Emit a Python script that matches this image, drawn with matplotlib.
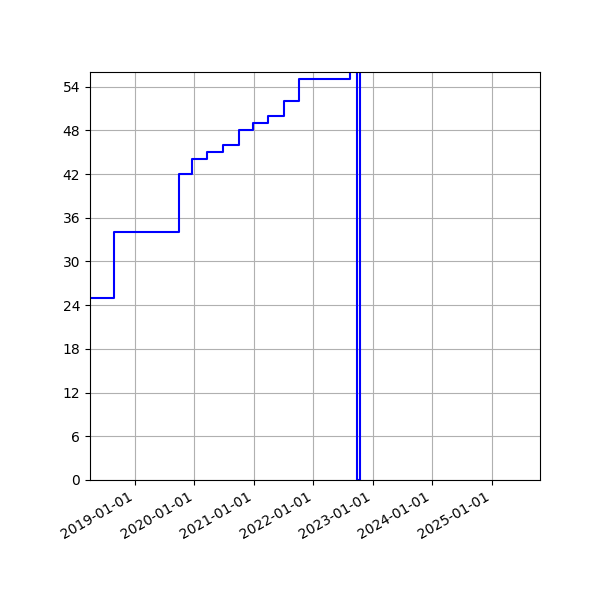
import numpy as np
import pandas as pd
import matplotlib
matplotlib.use('Agg')
import matplotlib.pyplot as plt
import matplotlib.dates as mdates

# step data (values above 56 are clipped off the top)
dates = ['2018-03-30', '2018-08-26', '2019-09-27', '2019-12-17', '2020-03-16',
         '2020-06-25', '2020-10-01', '2020-12-28', '2021-03-30', '2021-07-02',
         '2021-10-02', '2022-08-17', '2022-09-26', '2022-10-16', '2025-10-25']
values = [25, 34, 42, 44, 45, 46, 48, 49, 50, 52, 55, 100, 0, 100, 100]

x = pd.to_datetime(dates)

fig = plt.figure(figsize=(6, 6), dpi=100)
ax = fig.add_subplot(111)
ax.plot(x, values, color='blue', drawstyle='steps-post')

ax.set_xlim(x[0], x[-1])
ax.set_ylim(0, 56)
ax.yaxis.set_major_locator(plt.MultipleLocator(6))
ax.xaxis.set_major_locator(mdates.YearLocator())
ax.xaxis.set_major_formatter(mdates.DateFormatter('%Y-%m-%d'))
ax.grid(True)

fig.autofmt_xdate()
fig.subplots_adjust(left=0.15)

plt.savefig('out.png')
